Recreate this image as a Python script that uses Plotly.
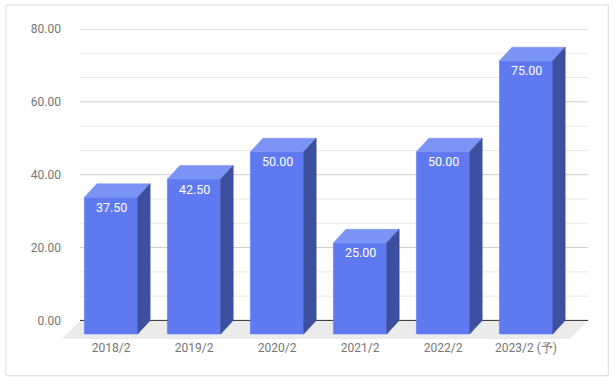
import plotly.graph_objects as go

categories = ["2018/2", "2019/2", "2020/2", "2021/2", "2022/2", "2023/2 (予)"]
values = [37.50, 42.50, 50.00, 25.00, 50.00, 75.00]
y_ticks = [0, 20, 40, 60, 80]

# styling / geometry (in axis units)
HW = 0.321      # half bar width
DX = 0.15       # depth shift (x)
DY = 3.71       # depth shift (y)
WALL_L = -0.524
WALL_R = 5.596
FLOOR_DX = 0.217
FLOOR_DY = 5.1
FRONT = "#5f7af1"
TOP = "#7b93f5"
SIDE = "#3d50a0"
TXT = "#757575"

fig = go.Figure()

for i, v in enumerate(values):
    c = i
    l, r = c - HW, c + HW
    # front face
    fig.add_trace(go.Scatter(
        x=[l - DX, r - DX, r - DX, l - DX, l - DX],
        y=[-DY, -DY, v - DY, v - DY, -DY],
        fill="toself", fillcolor=FRONT, mode="lines",
        line=dict(width=0.6, color=FRONT), hoverinfo="skip", showlegend=False))
    # top face
    fig.add_trace(go.Scatter(
        x=[l - DX, r - DX, r, l, l - DX],
        y=[v - DY, v - DY, v, v, v - DY],
        fill="toself", fillcolor=TOP, mode="lines",
        line=dict(width=0.6, color=TOP), hoverinfo="skip", showlegend=False))
    # side face
    fig.add_trace(go.Scatter(
        x=[r - DX, r, r, r - DX, r - DX],
        y=[v - DY, v, 0, -DY, v - DY],
        fill="toself", fillcolor=SIDE, mode="lines",
        line=dict(width=0.6, color=SIDE), hoverinfo="skip", showlegend=False))
    fig.add_annotation(x=c - DX, y=v - DY, text=f"{v:.2f}", showarrow=False,
                       yshift=-10, yanchor="middle",
                       font=dict(family="Roboto", size=12.5, color="white"))

shapes = []
n = len(categories)
# gridlines (major + minor)
for k, t in enumerate(y_ticks):
    shapes.append(dict(type="line", xref="x", yref="y", x0=WALL_L, x1=WALL_R, y0=t, y1=t,
                       line=dict(color="#cccccc", width=1), layer="below"))
    if k < len(y_ticks) - 1:
        step = (y_ticks[k + 1] - t) / 3
        for m in (1, 2):
            yy = t + m * step
            shapes.append(dict(type="line", xref="x", yref="y", x0=WALL_L, x1=WALL_R, y0=yy, y1=yy,
                               line=dict(color="#e8e8e8", width=1), layer="below"))
# floor
shapes.append(dict(type="path", xref="x", yref="y",
                   path=f"M {WALL_L} 0 L {WALL_R} 0 L {WALL_R - FLOOR_DX} {-FLOOR_DY} L {WALL_L - FLOOR_DX} {-FLOOR_DY} Z",
                   fillcolor="#ebebeb", line=dict(width=0), layer="below"))
# baseline
shapes.append(dict(type="line", xref="x", yref="y", x0=WALL_L, x1=WALL_R, y0=0, y1=0,
                   line=dict(color="#333333", width=1), layer="below"))
# outer border
shapes.append(dict(type="rect", xref="paper", yref="paper",
                   x0=-0.1065, x1=1.0385, y0=-0.1185, y1=1.0775,
                   line=dict(color="#d9d9d9", width=1), fillcolor="rgba(0,0,0,0)", layer="below"))

fig.update_layout(
    width=615, height=383,
    margin=dict(l=62, r=27, t=29, b=44),
    paper_bgcolor="white", plot_bgcolor="white",
    shapes=shapes,
    font=dict(family="Roboto", size=12, color=TXT),
    xaxis=dict(range=[WALL_L - FLOOR_DX, WALL_R], showgrid=False, zeroline=False,
               showline=False, tickvals=[i - DX for i in range(n)], ticktext=categories,
               ticks="", fixedrange=True),
    yaxis=dict(range=[-FLOOR_DY, 80], showgrid=False, zeroline=False, showline=False,
               tickvals=y_ticks, tickformat=".2f", ticks="", fixedrange=True),
    showlegend=False,
)

fig.write_html("out.html", config={"displayModeBar": False},
               post_script="document.body.style.margin='0';document.body.style.overflow='hidden';")
